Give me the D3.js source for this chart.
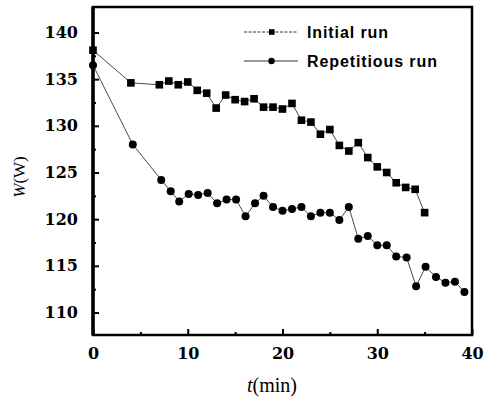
<!DOCTYPE html>
<html>
<head>
<meta charset="utf-8">
<script src="https://cdn.jsdelivr.net/npm/d3@7/dist/d3.min.js"></script>
<style>
    html, body { margin: 0; padding: 0; background: #fff; }
    svg { display: block; }
</style>
</head>
<body>
<div id="chart"></div>
<script>
// Initial run (squares)
const initialT = [0, 4, 7, 8, 9, 10, 11, 12, 13, 14, 15, 16, 17, 18, 19, 20, 21, 22, 23, 24, 25, 26, 27, 28, 29, 30, 31, 32, 33, 34, 35];
const initialW = [138.1, 134.6, 134.4, 134.8, 134.4, 134.7, 133.8, 133.5, 131.9, 133.3, 132.8, 132.6, 132.9, 132.0, 132.0, 131.8, 132.4, 130.6, 130.4, 129.1, 129.6, 127.9, 127.3, 128.2, 126.6, 125.6, 125.0, 123.9, 123.4, 123.2, 120.7];

// Repetitious run (circles)
const repeatT = [0, 4.2, 7.2, 8.2, 9.1, 10.1, 11.1, 12.1, 13.1, 14.1, 15.1, 16.1, 17.1, 18, 19, 20, 21, 22, 23, 24, 25, 26, 27, 28, 29, 30, 31, 32, 33.1, 34.1, 35.1, 36.2, 37.2, 38.2, 39.2];
const repeatW = [136.5, 128.0, 124.2, 123.0, 121.9, 122.7, 122.6, 122.8, 121.7, 122.1, 122.1, 120.3, 121.7, 122.5, 121.3, 120.9, 121.1, 121.3, 120.3, 120.7, 120.7, 119.9, 121.3, 117.9, 118.2, 117.2, 117.2, 116.0, 115.9, 112.8, 114.9, 113.8, 113.2, 113.3, 112.2];

const xTicks = [0, 10, 20, 30, 40];
const xMinorTicks = [5, 15, 25, 35];
const yTicks = [110, 115, 120, 125, 130, 135, 140];
const yMinorTicks = [107.5, 112.5, 117.5, 122.5, 127.5, 132.5, 137.5];
const legendLabels = ['Initial run', 'Repetitious run'];

const width = 486, height = 397;
const margin = { top: 7, right: 14, bottom: 62, left: 93 };
const chartWidth = width - margin.left - margin.right;
const chartHeight = height - margin.top - margin.bottom;

const svg = d3.select('#chart').append('svg')
    .attr('width', width)
    .attr('height', height);

const g = svg.append('g')
    .attr('transform', `translate(${margin.left},${margin.top})`);

const x = d3.scaleLinear().domain([0, 40]).range([0, chartWidth]);
const y = d3.scaleLinear().domain([107.59, 142.73]).range([chartHeight, 0]);

const tickFont = 'DejaVu Serif, serif';

// Y axis (ticks inside)
const yAxis = g.append('g')
    .call(d3.axisLeft(y).tickValues(yTicks).tickSizeInner(-6).tickSizeOuter(0).tickPadding(15));
yAxis.select('.domain').remove();
yAxis.selectAll('line').attr('stroke', '#000').attr('stroke-width', 2);
yAxis.selectAll('text')
    .style('font-family', tickFont)
    .style('font-weight', 'bold')
    .style('font-size', '16px')
    .attr('fill', '#000');

const yMinor = g.append('g')
    .call(d3.axisLeft(y).tickValues(yMinorTicks.filter(v => v > 107.59)).tickSizeInner(-3).tickSizeOuter(0).tickFormat(''));
yMinor.select('.domain').remove();
yMinor.selectAll('line').attr('stroke', '#000').attr('stroke-width', 2);

// X axis (ticks inside)
const xAxis = g.append('g')
    .attr('transform', `translate(0,${chartHeight})`)
    .call(d3.axisBottom(x).tickValues(xTicks).tickSizeInner(-6).tickSizeOuter(0).tickPadding(13));
xAxis.select('.domain').remove();
xAxis.selectAll('line').attr('stroke', '#000').attr('stroke-width', 2);
xAxis.selectAll('text')
    .style('font-family', tickFont)
    .style('font-weight', 'bold')
    .style('font-size', '16px')
    .attr('fill', '#000');

const xMinor = g.append('g')
    .attr('transform', `translate(0,${chartHeight})`)
    .call(d3.axisBottom(x).tickValues(xMinorTicks).tickSizeInner(-3).tickSizeOuter(0).tickFormat(''));
xMinor.select('.domain').remove();
xMinor.selectAll('line').attr('stroke', '#000').attr('stroke-width', 2);

// Frame
g.append('rect')
    .attr('x', 0).attr('y', 0)
    .attr('width', chartWidth).attr('height', chartHeight)
    .attr('fill', 'none')
    .attr('stroke', '#000')
    .attr('stroke-width', 2.5);
g.append('line')
    .attr('x1', 0).attr('x2', 0).attr('y1', 0).attr('y2', chartHeight)
    .attr('stroke', '#000').attr('stroke-width', 3.5);

// Series
const initialData = initialT.map((t, i) => ({ t, w: initialW[i] }));
const repeatData = repeatT.map((t, i) => ({ t, w: repeatW[i] }));

const line = d3.line().x(d => x(d.t)).y(d => y(d.w));

g.append('path')
    .datum(initialData)
    .attr('fill', 'none')
    .attr('stroke', '#333')
    .attr('stroke-width', 0.9)
    .attr('d', line);

g.append('path')
    .datum(repeatData)
    .attr('fill', 'none')
    .attr('stroke', '#333')
    .attr('stroke-width', 0.9)
    .attr('d', line);

g.selectAll('.sq')
    .data(initialData)
    .enter()
    .append('rect')
    .attr('class', 'sq')
    .attr('x', d => x(d.t) - 3.8)
    .attr('y', d => y(d.w) - 3.8)
    .attr('width', 7.6)
    .attr('height', 7.6)
    .attr('fill', '#000');

g.selectAll('.dot')
    .data(repeatData)
    .enter()
    .append('circle')
    .attr('class', 'dot')
    .attr('cx', d => x(d.t))
    .attr('cy', d => y(d.w))
    .attr('r', 4)
    .attr('fill', '#000');

// Legend
const legend = svg.append('g').attr('transform', 'translate(244, 32)');
legendLabels.forEach((label, i) => {
    const row = legend.append('g').attr('transform', `translate(0, ${i * 29})`);
    row.append('line')
        .attr('x1', 0).attr('x2', 54)
        .attr('y1', 0).attr('y2', 0)
        .attr('stroke', '#333')
        .attr('stroke-width', 1)
        .attr('stroke-dasharray', i === 0 ? '3,1.5' : null);
    if (i === 0) {
        row.append('rect')
            .attr('x', 25).attr('y', -2.8)
            .attr('width', 5.6).attr('height', 5.6)
            .attr('fill', '#000');
    } else {
        row.append('circle')
            .attr('cx', 27.5).attr('cy', 0).attr('r', 3.2)
            .attr('fill', '#000');
    }
    row.append('text')
        .attr('x', 63)
        .attr('y', 5.5)
        .style('font-family', 'Liberation Sans, Arial, sans-serif')
        .style('font-weight', 'bold')
        .style('font-size', '16px')
        .style('letter-spacing', '0.9px')
        .attr('fill', '#000')
        .text(label);
});

// Axis titles
const yTitle = svg.append('text')
    .attr('transform', 'translate(25, 177) rotate(-90)')
    .attr('text-anchor', 'middle')
    .style('font-family', 'Liberation Serif, Times New Roman, serif')
    .style('font-size', '17px')
    .attr('fill', '#000');
yTitle.append('tspan').style('font-style', 'italic').text('W');
yTitle.append('tspan').text('(W)');

const xTitle = svg.append('text')
    .attr('x', 272)
    .attr('y', 392)
    .attr('text-anchor', 'middle')
    .style('font-family', 'Liberation Serif, Times New Roman, serif')
    .style('font-size', '20px')
    .attr('fill', '#000');
xTitle.append('tspan').style('font-style', 'italic').text('t');
xTitle.append('tspan').text('(min)');
</script>
</body>
</html>
